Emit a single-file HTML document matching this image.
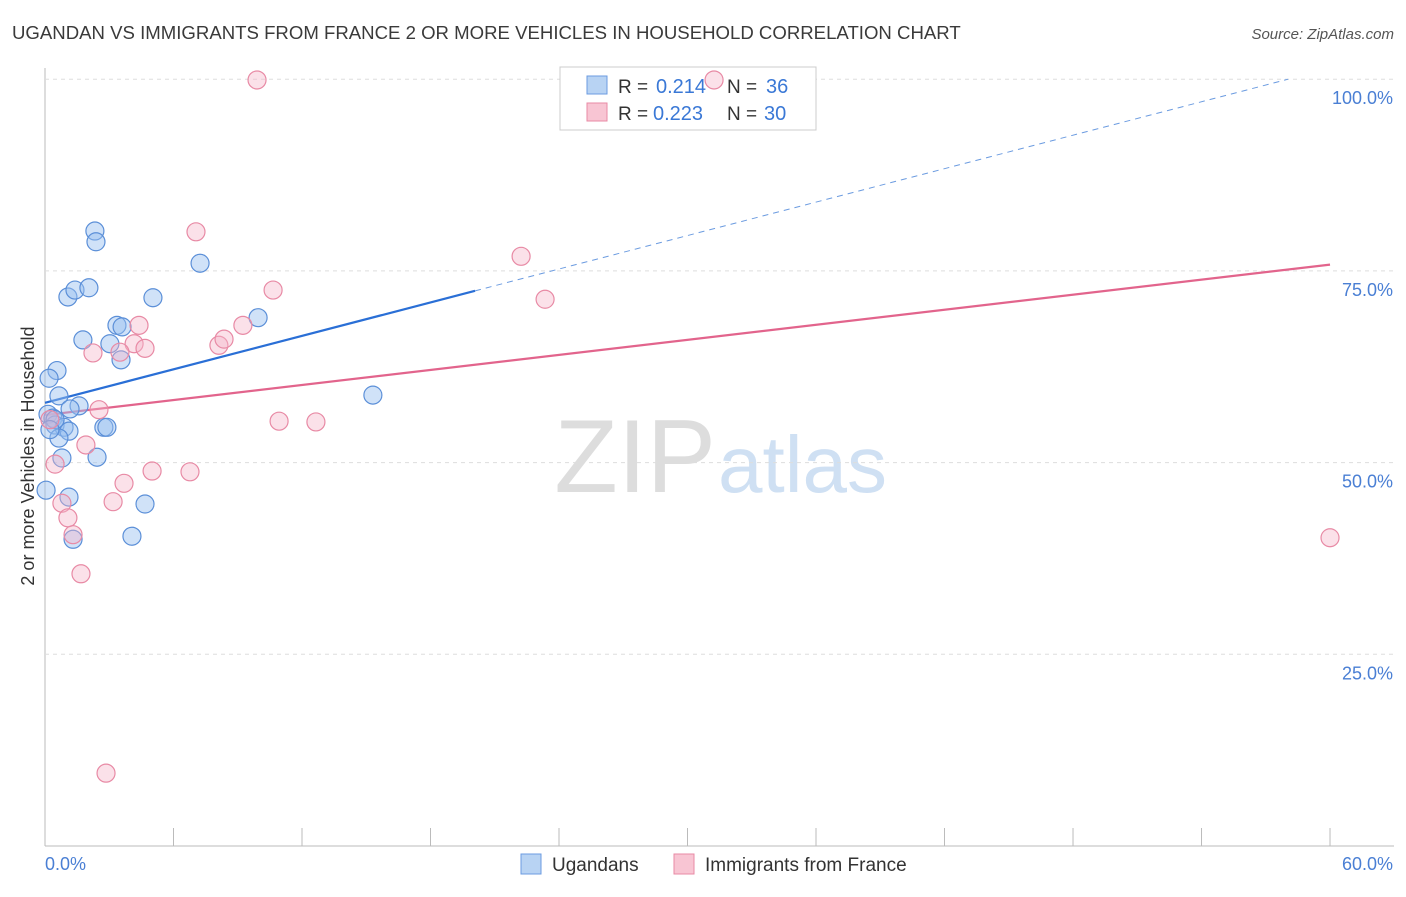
<!DOCTYPE html>
<html><head><meta charset="utf-8"><style>
body{margin:0;background:#fff;font-family:"Liberation Sans",sans-serif;}
svg text{font-family:"Liberation Sans",sans-serif;}
</style></head><body>
<svg id="c" width="1406" height="892" xmlns="http://www.w3.org/2000/svg">
<text x="12" y="39" font-size="18.6" fill="#3a3a3a">UGANDAN VS IMMIGRANTS FROM FRANCE 2 OR MORE VEHICLES IN HOUSEHOLD CORRELATION CHART</text>
<text x="1394" y="39" font-size="15" fill="#555" font-style="italic" text-anchor="end">Source: ZipAtlas.com</text>
<text x="716" y="492" font-size="104" fill="#ddd" text-anchor="end" font-family="Liberation Serif">ZIP</text>
<text x="718" y="492" font-size="80" fill="#cfe0f3">atlas</text>
<text transform="translate(34,456) rotate(-90)" font-size="18" fill="#333" text-anchor="middle">2 or more Vehicles in Household</text>
<g id="grid"></g><g id="trends"></g>
<g>
<rect x="560" y="67" width="256" height="63" fill="#fff" stroke="#ccc"/>
<rect x="587" y="76" width="20" height="18" fill="#b8d3f3" stroke="#6b9be0"/>
<text x="618" y="93" font-size="19" fill="#333">R =</text>
<text x="656" y="93" font-size="20" fill="#3a78d6">0.214</text>
<text x="727" y="93" font-size="19" fill="#333">N =</text>
<text x="766" y="93" font-size="20" fill="#3a78d6">36</text>
<rect x="587" y="103" width="20" height="18" fill="#f8c5d3" stroke="#e88aa5"/>
<text x="618" y="120" font-size="19" fill="#333">R =</text>
<text x="653" y="120" font-size="20" fill="#3a78d6">0.223</text>
<text x="727" y="120" font-size="19" fill="#333">N =</text>
<text x="764" y="120" font-size="20" fill="#3a78d6">30</text>
</g>
<g id="pts"></g>
<g>
<rect x="521" y="854" width="20" height="20" fill="#b8d3f3" stroke="#6b9be0"/>
<text x="552" y="871" font-size="19" fill="#333">Ugandans</text>
<rect x="674" y="854" width="20" height="20" fill="#f8c5d3" stroke="#e88aa5"/>
<text x="705" y="871" font-size="19" fill="#333">Immigrants from France</text>
</g>
</svg>
<script>
const blueX=[2.33,2.38,7.24,1.07,1.40,2.05,5.04,9.95,3.36,3.60,1.77,3.03,3.55,0.56,0.19,15.31,0.65,0.14,0.37,1.59,1.17,0.47,0.89,1.12,2.75,2.89,0.65,0.79,2.43,0.05,1.12,4.67,1.31,4.06,0.47,0.23];
const blueY=[80.2,78.8,76.0,71.6,72.5,72.8,71.5,68.9,67.9,67.7,66.0,65.5,63.4,62.0,61.0,58.8,58.7,56.3,55.8,57.4,57.0,54.9,54.6,54.1,54.6,54.6,53.2,50.6,50.7,46.4,45.5,44.6,40.0,40.4,55.6,54.3];
const pinkX=[9.90,31.24,7.05,22.23,10.65,23.35,4.39,9.24,2.24,4.16,4.67,8.12,8.36,3.50,2.52,10.93,12.65,0.23,1.91,5.00,6.77,0.47,3.69,0.79,3.18,1.07,1.31,1.68,2.85,60];
const pinkY=[99.9,99.9,80.1,76.9,72.5,71.3,67.9,67.9,64.3,65.5,64.9,65.3,66.1,64.4,56.9,55.4,55.3,55.6,52.3,48.9,48.8,49.8,47.3,44.7,44.9,42.8,40.6,35.5,9.5,40.2];
const yTicks=[25,50,75,100];
const yTickLabels=["25.0%","50.0%","75.0%","100.0%"];
const xTicks=[0,6,12,18,24,30,36,42,48,54,60];
const blueTrend=[57.8,0.727,20.08];
const pinkTrend=[56.2,0.327];
const X=v=>45+v*21.417, Y=v=>846-v*7.668;
const NS="http://www.w3.org/2000/svg";
function mk(p,t,a){const e=document.createElementNS(NS,t);for(const k in a)e.setAttribute(k,a[k]);document.getElementById(p).appendChild(e);return e;}
const ax=mk('grid','line',{x1:45,y1:68,x2:45,y2:846,stroke:'#bbb'});


const bx=mk('grid','line',{x1:45,y1:846,x2:1394,y2:846,stroke:'#bbb'});


yTicks.forEach((t,i)=>{
 const g=mk('grid','line',{x1:45,x2:1394,y1:Y(t),y2:Y(t),stroke:'#ddd','stroke-dasharray':'4,4'});
 
 
 const l=mk('grid','text',{x:1393,y:Y(t)+25,'font-size':18,fill:'#4a7fd4','text-anchor':'end'});
 l.textContent=yTickLabels[i];
 
 
});
xTicks.forEach(t=>{
 const k=mk('grid','line',{x1:X(t),x2:X(t),y1:828,y2:846,stroke:'#bbb'});
 
 
});
const xl0=mk('grid','text',{x:45,y:870,'font-size':18,fill:'#4a7fd4'});xl0.textContent='0.0%';


const xl1=mk('grid','text',{x:1393,y:870,'font-size':18,fill:'#4a7fd4','text-anchor':'end'});xl1.textContent='60.0%';


const bt=mk('trends','line',{x1:X(0),y1:Y(blueTrend[0]),x2:X(blueTrend[2]),y2:Y(blueTrend[0]+blueTrend[1]*blueTrend[2]),stroke:'#2a6fd6','stroke-width':2.2});


const xe=(100-blueTrend[0])/blueTrend[1];
const bd=mk('trends','line',{x1:X(blueTrend[2]),y1:Y(blueTrend[0]+blueTrend[1]*blueTrend[2]),x2:X(xe),y2:Y(100),stroke:'#6b9be0','stroke-width':1,'stroke-dasharray':'6,5'});


const pt=mk('trends','line',{x1:X(0),y1:Y(pinkTrend[0]),x2:X(60),y2:Y(pinkTrend[0]+pinkTrend[1]*60),stroke:'#e2648c','stroke-width':2.2});


blueX.forEach((x,i)=>{
 const c=mk('pts','circle',{cx:X(x),cy:Y(blueY[i]),r:9,fill:'rgba(150,190,240,0.45)',stroke:'#5b8fd8','stroke-width':1.2});
 
 
});
pinkX.forEach((x,i)=>{
 const c=mk('pts','circle',{cx:X(x),cy:Y(pinkY[i]),r:9,fill:'rgba(245,180,200,0.4)',stroke:'#e88aa5','stroke-width':1.2});
 
 
});
</script>
</body></html>
